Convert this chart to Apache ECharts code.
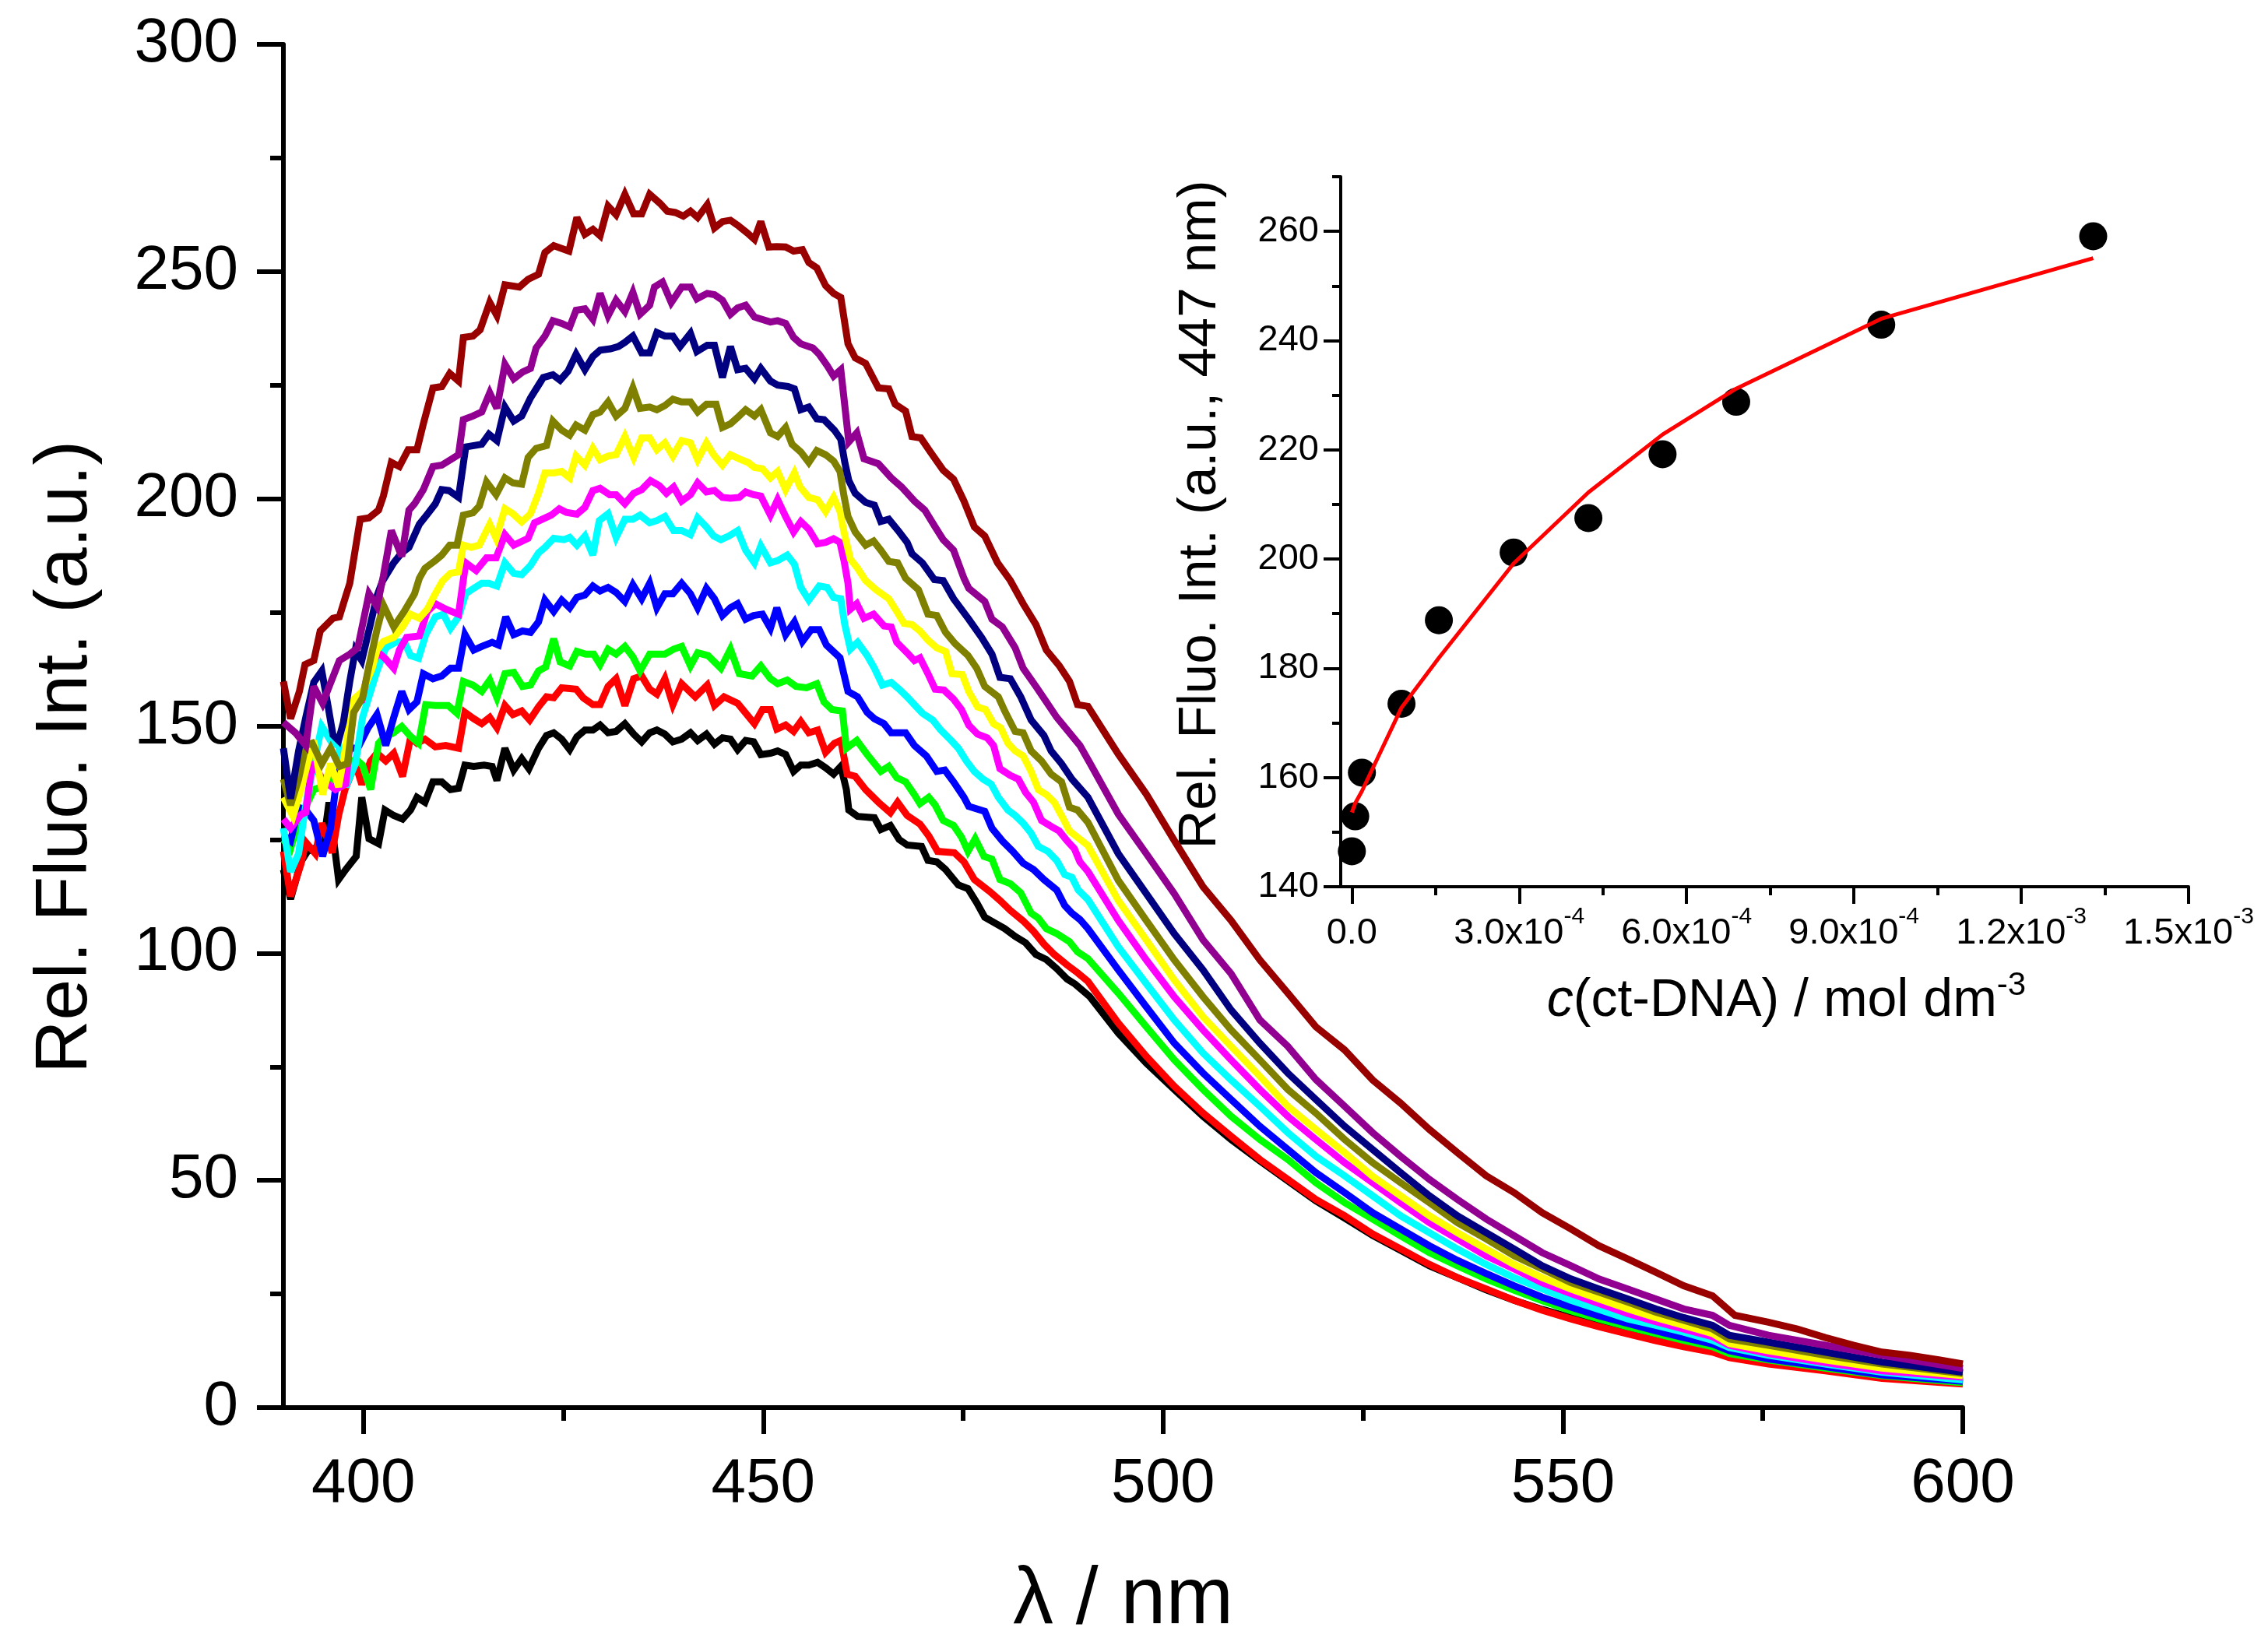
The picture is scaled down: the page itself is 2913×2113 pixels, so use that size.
<!DOCTYPE html>
<html><head><meta charset="utf-8">
<script src="https://cdn.jsdelivr.net/npm/echarts@6/dist/echarts.min.js"></script>
<style>html,body{margin:0;padding:0;background:#fff}#c{width:2913px;height:2113px}</style>
</head><body><div id="c"></div>
<script>
// ---------- main spectra: [wavelength nm, rel. fluorescence] ----------
const spBlack = [[390.0,118.4],[390.9,111.9],[392.2,120.1],[393.0,122.4],[393.8,123.0],[395.0,124.0],[395.7,133.2],[396.9,116.2],[397.8,118.4],[399.1,121.3],[399.8,134.3],[400.7,125.2],[401.9,124.1],[402.7,131.5],[403.8,130.3],[404.9,129.5],[405.9,131.5],[406.7,134.3],[407.7,133.2],[408.7,137.7],[409.8,137.7],[410.9,136.0],[411.9,136.3],[412.7,141.4],[413.8,141.1],[415.1,141.4],[416.1,141.1],[416.7,138.0],[417.7,145.1],[418.8,140.3],[419.8,142.8],[420.7,140.6],[421.9,145.1],[422.9,147.9],[423.8,148.5],[424.8,147.1],[425.8,144.8],[426.7,147.6],[427.7,149.1],[428.7,149.1],[429.6,150.2],[430.6,148.5],[431.6,148.8],[432.7,150.5],[433.8,148.2],[434.8,146.5],[435.8,148.5],[436.7,149.1],[437.7,148.2],[438.7,146.5],[439.8,147.1],[440.9,148.5],[441.8,146.8],[442.9,148.2],[443.9,146.0],[444.9,147.4],[445.9,147.1],[446.8,144.8],[447.8,146.8],[448.8,146.5],[449.7,143.7],[450.9,144.0],[451.8,144.5],[452.8,143.7],[453.8,140.0],[454.7,141.4],[455.7,141.4],[456.8,142.0],[457.8,140.8],[458.8,139.4],[459.7,141.1],[460.4,136.0],[460.7,131.5],[461.8,130.1],[463.9,129.8],[464.7,127.2],[465.9,128.1],[467.0,125.0],[468.0,123.8],[469.8,123.5],[470.6,120.4],[471.7,120.1],[472.8,118.4],[474.4,115.0],[475.6,114.2],[476.7,111.1],[477.7,107.9],[478.8,106.8],[480.2,105.4],[481.5,103.7],[482.8,102.3],[484.1,99.7],[485.4,98.6],[486.7,96.6],[488.0,94.3],[489.0,93.2],[490.8,90.5],[494.4,82.4],[497.9,75.8],[501.4,70.0],[505.0,64.1],[508.5,59.0],[512.1,54.3],[515.6,49.9],[519.1,45.5],[522.7,41.7],[526.2,37.9],[529.7,34.6],[533.3,31.2],[536.8,28.6],[540.4,25.9],[543.9,23.6],[547.4,21.6],[551.0,19.8],[554.5,18.1],[558.1,16.6],[561.6,15.1],[565.1,13.7],[568.7,12.5],[570.8,11.3],[575.7,9.9],[582.8,8.4],[589.9,6.7],[600.0,5.5]];
const spRed = [[390.0,122.4],[390.9,112.5],[392.2,119.6],[392.8,124.4],[394.0,121.9],[394.8,128.6],[396.1,122.1],[396.9,130.3],[397.7,136.0],[399.0,141.7],[399.8,137.1],[400.9,142.3],[401.7,144.0],[402.8,142.3],[403.8,144.0],[404.9,138.9],[405.9,147.4],[406.7,146.2],[407.7,147.1],[409.0,145.4],[410.3,145.7],[411.9,145.1],[412.7,153.0],[413.8,151.6],[414.8,150.5],[415.8,151.9],[416.7,149.6],[417.7,154.5],[418.7,152.5],[419.8,153.3],[420.8,151.3],[421.9,154.2],[422.9,156.4],[423.8,156.2],[424.8,158.4],[426.6,158.1],[427.5,156.2],[428.7,154.7],[429.6,154.7],[430.6,158.7],[431.6,160.4],[432.7,154.5],[433.8,160.4],[434.8,161.0],[435.8,158.1],[436.7,157.0],[437.7,160.4],[438.7,154.7],[439.8,159.3],[441.5,156.4],[443.0,159.0],[443.9,154.5],[445.1,156.4],[446.8,155.0],[448.9,150.5],[449.9,153.6],[450.9,153.6],[451.7,149.3],[452.8,150.2],[453.8,148.8],[454.7,151.0],[455.7,148.5],[456.8,149.1],[457.8,144.2],[458.9,146.2],[459.7,146.8],[460.5,139.4],[461.5,138.9],[462.8,136.0],[464.4,133.2],[465.9,130.9],[466.8,133.2],[468.0,130.3],[469.6,128.4],[470.7,125.8],[471.8,122.4],[473.9,122.1],[475.1,120.1],[476.4,116.2],[478.3,113.6],[479.6,111.6],[480.9,109.4],[482.5,107.1],[483.8,104.8],[485.1,102.0],[486.4,99.7],[488.0,97.4],[489.3,95.7],[490.6,93.8],[494.4,84.6],[497.9,77.3],[501.4,70.7],[505.0,64.8],[508.5,59.7],[512.1,54.6],[515.6,50.2],[519.1,45.8],[522.7,42.2],[526.2,38.2],[529.7,34.9],[533.3,31.5],[536.8,28.6],[540.4,26.1],[543.9,23.6],[547.4,21.4],[551.0,19.5],[554.5,17.8],[558.1,16.2],[561.6,14.7],[565.1,13.4],[568.7,12.2],[570.8,11.0],[575.7,9.6],[582.8,8.1],[589.9,6.4],[600.0,5.2]];
const spGreen = [[390.0,125.0],[390.9,123.0],[391.8,128.5],[393.8,136.0],[394.8,136.6],[395.7,138.3],[397.0,138.0],[399.0,142.8],[399.9,141.4],[400.9,136.0],[401.9,146.2],[402.5,147.4],[403.8,148.5],[404.8,149.9],[405.8,147.9],[406.9,146.2],[407.8,154.7],[409.0,154.5],[410.6,154.5],[411.7,152.8],[412.5,159.8],[413.7,159.0],[414.8,157.6],[415.8,160.1],[416.7,156.2],[417.7,161.5],[418.8,161.8],[419.9,158.7],[420.9,159.0],[421.9,162.1],[422.8,163.0],[423.8,169.2],[424.6,164.1],[425.8,163.2],[426.7,166.4],[427.8,165.8],[428.8,165.8],[429.6,163.5],[430.6,166.9],[431.6,165.8],[432.7,167.5],[433.7,165.2],[434.6,162.1],[435.8,165.8],[437.7,165.8],[438.8,166.9],[439.8,167.5],[440.9,163.2],[441.8,166.1],[443.1,165.5],[444.7,162.7],[445.9,166.9],[447.0,161.5],[448.6,161.0],[449.7,163.2],[450.9,160.4],[451.8,159.3],[453.0,160.1],[454.1,158.7],[455.4,158.4],[456.7,159.3],[457.6,155.3],[458.6,153.6],[459.9,153.3],[460.4,145.1],[461.7,146.8],[463.0,143.7],[464.7,140.0],[465.7,141.1],[466.7,138.6],[467.8,137.7],[468.9,134.9],[469.6,132.9],[470.7,134.3],[471.5,132.6],[472.5,129.2],[473.8,128.1],[474.8,125.5],[475.6,122.4],[476.5,125.2],[477.6,121.3],[478.6,120.7],[479.6,116.2],[480.9,115.3],[482.2,113.3],[483.5,108.8],[484.4,107.7],[485.4,105.4],[486.7,104.3],[488.3,102.5],[489.3,100.3],[490.6,98.8],[494.4,91.2],[497.9,83.8],[501.4,76.5],[505.0,70.0],[508.5,64.1],[512.1,59.0],[515.6,54.6],[519.1,49.5],[522.7,45.1],[526.2,41.5],[529.7,37.8],[533.3,34.1],[536.8,31.2],[540.4,28.3],[543.9,25.8],[547.4,23.5],[551.0,21.3],[554.5,19.5],[558.1,17.8],[561.6,16.3],[565.1,14.8],[568.7,13.4],[570.8,11.9],[575.7,10.5],[582.8,8.7],[589.9,7.0],[600.0,5.5]];
const spBlue = [[390.0,126.0],[390.9,124.7],[391.9,132.1],[392.8,131.5],[393.8,129.2],[394.9,121.3],[395.9,127.5],[396.5,136.0],[397.2,141.7],[398.5,145.1],[399.3,145.1],[400.6,149.6],[401.7,152.5],[402.8,145.7],[403.8,151.9],[404.8,157.6],[405.7,153.6],[406.7,155.3],[407.5,161.5],[408.7,160.4],[409.8,161.0],[410.9,162.7],[411.9,162.7],[412.7,170.1],[413.8,166.7],[414.8,167.5],[416.1,168.4],[416.9,167.8],[417.8,174.0],[418.8,170.1],[419.9,170.9],[420.9,170.6],[421.9,172.9],[422.7,177.7],[423.8,175.2],[424.8,177.7],[425.8,176.0],[426.7,178.3],[427.7,178.8],[428.7,180.8],[429.6,179.7],[430.6,180.5],[431.6,179.4],[432.7,177.4],[433.7,181.1],[434.8,178.0],[435.8,181.4],[436.7,176.0],[437.7,179.1],[438.7,179.1],[439.8,181.4],[440.9,179.1],[441.8,176.0],[442.9,180.3],[443.9,178.0],[444.9,174.3],[445.9,176.0],[446.8,176.9],[447.8,173.5],[448.8,174.3],[449.9,174.6],[450.9,171.5],[451.7,176.0],[452.8,170.1],[453.9,172.9],[454.9,168.6],[456.0,171.2],[457.0,171.2],[457.9,167.8],[459.6,165.0],[460.6,157.6],[461.8,156.4],[463.0,153.0],[463.9,151.6],[465.1,150.5],[466.0,148.5],[467.8,148.5],[468.9,145.7],[470.4,143.4],[471.7,140.0],[472.7,140.3],[473.8,137.7],[475.1,134.3],[475.7,132.3],[477.7,131.2],[478.6,127.5],[479.9,124.7],[481.2,122.4],[482.5,119.8],[483.8,118.4],[485.1,116.2],[486.7,113.9],[487.7,110.5],[488.6,108.8],[489.6,107.4],[490.6,105.4],[494.4,96.3],[497.9,88.2],[501.4,80.2],[505.0,73.6],[508.5,67.8],[512.1,61.9],[515.6,56.8],[519.1,51.7],[522.7,47.3],[526.2,42.9],[529.7,39.3],[533.3,35.6],[536.8,32.4],[540.4,29.5],[543.9,26.8],[547.4,24.3],[551.0,22.1],[554.5,20.2],[558.1,18.5],[561.6,16.9],[565.1,15.4],[568.7,14.0],[570.8,12.5],[575.7,10.7],[582.8,9.0],[589.9,7.2],[600.0,5.8]];
const spCyan = [[390.0,127.5],[390.9,117.9],[391.9,121.9],[392.7,131.5],[393.8,141.7],[394.8,149.9],[395.3,148.5],[396.1,146.2],[396.9,145.7],[397.8,136.6],[399.0,141.7],[399.9,151.9],[400.9,157.6],[401.7,162.1],[402.8,167.2],[404.0,168.4],[405.1,168.6],[405.9,165.5],[406.9,164.9],[407.8,170.1],[409.0,174.0],[410.0,174.6],[410.9,171.5],[411.9,174.0],[412.8,179.1],[413.8,180.3],[414.8,181.4],[415.7,181.4],[416.7,180.8],[417.7,185.9],[418.8,183.6],[419.8,183.3],[420.9,185.3],[421.9,188.1],[422.7,189.3],[423.8,191.3],[425.1,191.0],[425.8,191.5],[426.7,189.8],[427.7,191.8],[428.7,187.6],[429.5,195.2],[430.6,196.7],[431.6,191.5],[432.7,195.5],[433.7,195.5],[434.6,196.4],[435.8,194.7],[436.7,195.2],[437.7,196.1],[438.8,193.0],[439.8,193.0],[440.9,192.1],[441.8,195.8],[442.9,193.8],[443.8,191.8],[444.7,191.0],[445.7,191.8],[446.8,193.0],[447.8,188.7],[448.9,185.9],[449.7,189.6],[450.9,185.9],[451.8,186.4],[453.0,187.6],[453.9,185.6],[454.7,180.5],[455.7,177.7],[457.0,180.8],[458.0,180.5],[458.8,178.3],[459.7,178.0],[460.2,172.3],[460.9,166.9],[461.8,168.4],[463.0,165.5],[463.9,162.7],[464.9,159.0],[466.0,159.6],[467.0,158.1],[468.0,156.4],[468.9,154.7],[469.9,152.8],[471.2,151.3],[472.2,149.1],[473.5,146.8],[474.4,145.1],[475.4,142.3],[476.4,140.0],[477.5,138.3],[478.5,137.2],[479.4,134.3],[480.6,131.5],[481.5,130.3],[482.5,128.6],[483.5,126.4],[484.4,123.5],[485.6,122.4],[486.7,120.4],[487.7,117.3],[488.6,116.7],[489.4,113.9],[490.6,111.8],[494.4,101.4],[497.9,93.3],[501.4,85.3],[505.0,78.0],[508.5,72.1],[512.1,66.3],[515.6,60.5],[519.1,55.3],[522.7,51.0],[526.2,46.6],[529.7,42.2],[533.3,38.5],[536.8,34.9],[540.4,31.5],[543.9,28.6],[547.4,26.1],[551.0,23.6],[554.5,21.6],[558.1,19.5],[561.6,18.1],[565.1,16.6],[568.7,14.8],[570.8,13.2],[575.7,11.5],[582.8,9.6],[589.9,7.8],[600.0,6.1]];
const spMagenta = [[390.0,129.5],[390.9,127.5],[392.2,130.5],[392.8,131.0],[393.6,142.0],[395.0,138.0],[396.5,136.0],[397.8,137.2],[398.8,154.7],[399.8,155.6],[400.7,162.7],[401.9,166.1],[402.7,164.9],[403.8,162.7],[404.5,166.7],[405.4,169.5],[407.0,169.8],[408.0,175.2],[409.0,176.9],[410.3,175.7],[411.9,174.6],[412.8,185.9],[414.1,184.2],[415.4,187.0],[416.6,187.0],[417.7,192.1],[418.8,189.8],[420.6,191.3],[421.4,194.7],[423.5,196.4],[424.5,197.8],[425.4,197.0],[426.7,196.6],[427.7,198.1],[428.7,201.8],[429.6,202.3],[430.8,200.9],[431.6,200.9],[432.7,198.9],[433.8,201.2],[434.8,202.0],[435.9,204.0],[437.0,202.9],[437.9,201.2],[438.8,202.6],[439.8,199.5],[440.9,200.9],[441.8,203.5],[442.9,201.5],[443.9,201.8],[444.9,200.3],[445.9,200.1],[447.0,200.3],[447.8,201.5],[448.8,200.9],[449.7,200.6],[450.9,196.4],[451.8,199.8],[452.8,196.1],[453.8,192.7],[454.7,195.0],[455.7,193.3],[456.8,190.1],[457.8,190.4],[458.8,191.2],[459.6,190.4],[460.1,186.4],[460.6,181.4],[460.9,175.7],[461.7,176.9],[462.6,173.7],[463.8,174.6],[465.1,172.0],[466.0,171.8],[466.7,168.4],[468.0,166.1],[468.9,164.4],[469.6,165.0],[470.6,161.5],[471.5,158.1],[472.6,157.9],[473.8,155.9],[474.8,153.6],[475.7,150.2],[476.8,148.2],[478.0,147.4],[478.8,145.7],[479.6,140.6],[480.9,139.1],[481.9,138.3],[482.8,135.4],[483.8,133.2],[484.8,129.2],[486.1,127.8],[487.0,126.9],[488.0,124.7],[488.9,123.0],[489.6,120.1],[490.6,118.0],[494.4,107.2],[497.9,98.5],[501.4,90.4],[505.0,83.1],[508.5,76.5],[512.1,70.0],[515.6,64.1],[519.1,59.0],[522.7,53.9],[526.2,49.5],[529.7,45.1],[533.3,40.7],[536.8,37.1],[540.4,33.4],[543.9,30.5],[547.4,27.5],[551.0,25.1],[554.5,22.9],[558.1,20.7],[561.6,18.9],[565.1,17.3],[568.7,15.6],[570.8,13.7],[575.7,11.9],[582.8,9.9],[589.9,8.1],[600.0,6.7]];
const spYellow = [[390.0,134.3],[391.2,130.1],[392.2,136.0],[393.0,141.7],[393.8,146.8],[394.9,134.9],[395.9,141.7],[396.9,136.6],[397.7,144.5],[398.8,155.9],[399.9,157.6],[401.1,162.7],[401.7,166.7],[402.5,168.6],[403.8,169.5],[404.9,171.8],[405.9,174.6],[407.0,173.7],[408.0,175.7],[408.9,178.8],[409.9,181.9],[410.9,183.6],[411.9,183.9],[412.5,189.8],[413.5,189.3],[414.5,189.8],[415.8,194.4],[416.6,191.3],[417.7,197.8],[418.7,196.7],[419.8,194.9],[420.9,196.7],[421.9,201.2],[422.7,205.7],[423.8,205.7],[424.8,206.0],[425.8,204.6],[426.6,209.4],[427.7,207.4],[428.7,211.1],[429.6,208.6],[430.6,209.4],[431.6,209.7],[432.7,213.7],[433.8,209.1],[434.8,213.4],[435.8,213.4],[436.7,210.8],[437.7,212.3],[438.7,209.4],[439.8,212.8],[440.9,212.3],[441.8,208.6],[442.9,212.3],[443.8,209.7],[444.9,207.4],[445.9,209.7],[447.0,208.8],[448.1,208.0],[448.9,206.9],[449.9,206.6],[450.9,204.6],[451.8,206.0],[452.8,202.0],[453.9,205.7],[454.6,202.6],[455.7,200.3],[456.8,199.8],[457.8,197.2],[458.8,200.3],[459.6,197.2],[460.1,192.7],[460.9,186.7],[461.8,184.7],[462.8,182.0],[464.1,180.0],[465.7,178.0],[466.7,175.2],[467.6,172.6],[468.6,172.3],[469.6,170.9],[470.6,168.9],[471.7,167.2],[472.8,166.4],[473.6,161.5],[474.9,161.3],[475.7,157.6],[476.8,154.2],[477.8,153.6],[478.8,150.5],[479.7,149.6],[480.6,146.2],[481.5,144.5],[482.5,143.4],[483.5,140.0],[484.4,136.0],[485.4,134.9],[486.4,133.2],[487.3,130.3],[488.3,126.9],[489.3,125.5],[490.6,123.7],[494.4,111.6],[497.9,102.9],[501.4,94.1],[505.0,86.0],[508.5,79.5],[512.1,72.9],[515.6,66.3],[519.1,61.2],[522.7,56.1],[526.2,50.9],[529.7,46.6],[533.3,42.2],[536.8,38.5],[540.4,34.9],[543.9,31.5],[547.4,28.6],[551.0,26.1],[554.5,23.9],[558.1,21.7],[561.6,19.8],[565.1,18.1],[568.7,16.3],[570.8,14.1],[575.7,12.5],[582.8,10.5],[589.9,8.7],[600.0,7.0]];
const spOlive = [[390.0,138.3],[390.9,132.6],[391.9,138.3],[392.8,145.7],[393.6,146.2],[394.8,141.7],[395.9,145.1],[397.0,141.1],[398.0,141.7],[398.8,153.0],[399.9,156.2],[400.7,163.2],[401.7,171.2],[402.5,176.6],[403.8,171.8],[405.1,175.2],[406.4,179.1],[407.0,182.5],[407.7,184.7],[409.0,186.4],[409.8,187.6],[410.8,189.8],[411.7,189.8],[412.5,196.4],[413.7,196.9],[414.5,198.4],[415.4,203.7],[416.6,200.9],[417.7,204.6],[418.7,203.5],[419.8,203.2],[420.6,209.1],[421.6,211.1],[422.9,211.7],[423.7,217.1],[424.8,215.1],[425.8,214.0],[426.6,216.2],[427.7,215.1],[428.7,218.5],[429.6,219.1],[430.6,221.3],[431.6,218.2],[432.7,219.9],[433.7,224.4],[434.6,219.9],[435.8,220.2],[436.7,219.6],[437.7,220.5],[438.7,221.9],[439.8,221.3],[440.9,221.3],[441.8,219.1],[442.9,220.8],[444.1,220.8],[444.9,215.7],[445.9,216.5],[446.8,217.9],[447.8,219.6],[448.9,218.2],[449.7,219.6],[450.9,214.5],[451.8,213.7],[452.8,215.7],[453.6,212.0],[454.7,210.3],[455.7,208.0],[456.7,210.6],[457.8,209.7],[458.8,208.3],[459.6,206.0],[460.1,200.6],[460.6,196.1],[461.5,192.7],[462.8,189.8],[463.8,190.7],[464.7,188.7],[465.7,186.2],[466.8,185.9],[467.8,182.5],[469.4,180.0],[470.6,174.6],[471.7,174.3],[472.8,170.6],[474.0,168.1],[475.6,165.5],[476.7,162.7],[477.7,158.7],[479.4,156.4],[480.2,153.3],[481.5,148.8],[482.5,148.5],[483.5,144.5],[484.8,142.3],[486.0,139.4],[487.3,137.7],[488.3,132.1],[489.3,131.5],[490.6,128.8],[494.4,116.0],[497.9,107.2],[501.4,98.5],[505.0,90.4],[508.5,83.1],[512.1,76.5],[515.6,70.0],[519.1,64.8],[522.7,59.0],[526.2,53.9],[529.7,49.5],[533.3,45.1],[536.8,40.7],[540.4,37.1],[543.9,33.4],[547.4,30.5],[551.0,27.5],[554.5,25.4],[558.1,23.2],[561.6,21.0],[565.1,19.2],[568.7,17.3],[570.8,15.1],[575.7,13.7],[582.8,11.5],[589.9,9.6],[600.0,7.5]];
const spNavy = [[390.0,145.1],[390.9,134.0],[391.9,144.5],[392.8,151.9],[393.8,159.6],[394.8,162.1],[395.6,154.2],[396.2,148.0],[396.9,146.8],[397.5,150.8],[398.3,159.8],[399.0,166.7],[399.8,164.4],[400.8,171.8],[401.7,178.6],[402.4,181.9],[403.8,185.9],[404.8,188.1],[405.7,189.3],[407.0,194.4],[408.0,196.6],[409.0,198.9],[409.8,202.0],[410.7,201.8],[411.9,200.3],[412.8,211.4],[413.8,211.7],[414.8,212.0],[415.7,214.2],[416.7,212.8],[417.7,220.2],[418.8,217.1],[419.8,218.2],[420.9,222.2],[421.9,225.0],[422.5,226.7],[423.7,227.3],[424.6,226.1],[425.6,228.1],[426.6,231.8],[427.7,228.4],[428.7,231.3],[429.6,232.7],[430.9,233.0],[431.9,233.5],[432.7,234.4],[433.7,235.8],[434.8,232.1],[435.8,232.1],[436.7,236.6],[437.7,235.8],[438.7,235.8],[439.6,233.5],[440.9,236.4],[441.7,232.4],[443.0,233.8],[443.9,233.8],[444.9,226.7],[445.9,233.5],[446.8,228.4],[447.8,228.7],[448.9,226.4],[449.7,228.7],[450.9,225.9],[451.8,225.0],[453.1,224.7],[453.9,224.2],[454.7,219.6],[455.7,220.2],[456.7,217.6],[457.6,217.4],[458.9,215.1],[459.7,213.1],[460.2,208.0],[460.7,204.0],[461.5,201.2],[462.8,199.2],[463.9,198.6],[464.7,195.0],[465.7,195.5],[467.0,192.7],[468.0,190.4],[468.6,187.9],[469.9,185.9],[471.4,182.2],[472.5,182.0],[473.8,178.0],[475.7,173.5],[477.3,169.5],[478.6,165.8],[479.6,160.7],[480.9,160.4],[482.2,156.4],[483.5,151.3],[485.1,147.9],[486.0,144.5],[487.3,141.7],[488.6,138.3],[490.6,134.3],[494.4,121.9],[497.9,113.1],[501.4,104.3],[505.0,96.3],[508.5,87.5],[512.1,80.2],[515.6,73.6],[519.1,67.8],[522.7,61.9],[526.2,56.8],[529.7,51.7],[533.3,46.6],[536.8,42.2],[540.4,38.5],[543.9,34.9],[547.4,31.2],[551.0,28.3],[554.5,26.1],[558.1,23.9],[561.6,21.7],[565.1,19.8],[568.7,18.1],[570.8,15.9],[575.7,14.4],[582.8,12.2],[589.9,10.0],[600.0,7.8]];
const spPurple = [[390.0,150.8],[391.5,148.5],[392.8,145.7],[393.8,158.7],[394.9,155.0],[397.0,164.4],[398.3,165.8],[399.3,167.2],[400.7,179.1],[401.7,176.3],[402.5,183.0],[403.5,193.0],[404.8,187.3],[405.7,197.5],[406.4,198.9],[407.5,202.0],[408.7,207.1],[409.8,207.4],[410.9,208.6],[411.9,209.7],[412.5,217.4],[413.7,218.2],[414.8,219.1],[415.8,223.3],[416.7,219.9],[417.7,229.6],[418.8,226.4],[419.9,227.9],[420.9,228.7],[421.6,233.2],[422.7,235.8],[423.7,239.2],[424.8,238.6],[425.8,237.8],[426.6,241.5],[427.7,241.8],[428.7,239.5],[429.6,245.2],[430.6,240.3],[431.6,243.7],[432.7,241.2],[433.7,245.4],[434.6,240.6],[435.8,242.6],[436.4,246.6],[437.4,247.7],[438.5,243.2],[439.8,246.6],[440.9,246.6],[441.7,244.0],[443.0,245.2],[443.9,244.9],[444.9,243.7],[445.9,240.6],[446.8,242.0],[447.8,242.6],[448.9,240.0],[450.9,238.9],[451.8,239.2],[452.8,238.6],[453.8,235.5],[454.7,234.1],[456.2,233.2],[457.0,231.8],[458.0,229.3],[458.8,227.0],[459.7,228.4],[460.2,220.5],[460.7,212.5],[461.7,214.5],[462.6,208.8],[464.4,207.7],[466.0,204.6],[467.3,202.6],[468.9,199.5],[470.2,197.5],[471.5,193.8],[472.5,191.0],[473.8,188.7],[475.1,182.5],[475.7,180.3],[477.7,177.4],[478.6,173.5],[479.9,171.8],[481.5,167.2],[482.5,162.7],[484.1,158.7],[485.4,155.3],[486.7,151.9],[488.3,148.5],[489.6,145.7],[490.8,142.0],[494.4,130.6],[497.9,121.9],[501.4,113.1],[505.0,102.9],[508.5,95.5],[512.1,85.3],[515.6,79.5],[519.1,72.2],[522.7,66.3],[526.2,60.5],[529.7,55.3],[533.3,50.2],[536.8,45.8],[540.4,41.5],[543.9,37.8],[547.4,34.1],[551.0,31.2],[554.5,28.3],[558.1,26.1],[561.6,23.9],[565.1,21.7],[568.7,20.3],[570.8,18.1],[575.7,15.9],[582.8,13.7],[589.9,11.5],[600.0,8.6]];
const spWine = [[390.0,159.8],[390.9,151.6],[392.0,157.6],[392.7,163.5],[393.8,164.4],[394.6,170.9],[396.2,173.7],[397.0,174.0],[397.8,178.6],[398.3,181.4],[399.6,195.5],[400.7,195.8],[401.9,197.5],[402.5,200.6],[403.5,208.0],[404.5,207.1],[405.6,210.8],[406.7,210.8],[407.5,216.5],[408.7,224.4],[409.8,224.7],[410.8,227.6],[411.9,225.9],[412.5,235.5],[413.7,235.8],[414.6,237.2],[415.8,243.2],[416.7,240.3],[417.7,247.1],[419.5,246.6],[420.6,248.3],[421.9,249.4],[422.7,254.2],[423.8,255.7],[425.7,254.5],[426.7,261.9],[427.7,258.2],[428.7,259.3],[429.6,257.9],[430.6,264.4],[431.6,262.5],[432.7,267.0],[433.8,262.7],[434.8,262.7],[435.8,267.0],[437.1,265.0],[438.0,263.3],[439.0,263.0],[440.0,262.2],[440.9,263.3],[441.8,261.9],[443.0,264.7],[443.9,259.6],[444.9,261.0],[445.9,261.3],[446.8,260.2],[448.0,258.5],[448.9,257.1],[449.7,261.0],[450.7,255.4],[451.7,255.5],[452.8,255.4],[453.8,254.5],[454.9,254.8],[455.7,252.0],[456.7,250.8],[457.8,246.9],[458.8,245.2],[459.7,244.3],[460.6,234.1],[461.5,231.0],[462.8,229.8],[464.4,224.4],[465.7,224.2],[466.5,220.8],[467.8,219.3],[468.6,213.7],[469.7,213.4],[470.9,210.3],[472.5,206.3],[473.8,204.3],[475.1,199.5],[476.4,193.8],[477.7,191.8],[479.3,185.9],[480.9,182.0],[482.5,176.9],[484.1,172.3],[485.4,166.7],[487.0,163.3],[488.3,159.8],[489.3,154.7],[490.6,154.3],[494.4,143.8],[497.9,135.0],[501.4,124.8],[505.0,114.6],[508.5,107.2],[512.1,98.5],[515.6,91.2],[519.1,83.8],[522.7,78.7],[526.2,72.1],[529.7,67.0],[533.3,61.2],[536.8,56.1],[540.4,51.0],[543.9,47.3],[547.4,42.9],[551.0,39.3],[554.5,35.6],[558.1,32.7],[561.6,29.8],[565.1,26.8],[568.7,24.6],[571.5,20.3],[575.7,18.8],[579.3,17.3],[582.8,15.4],[586.4,13.7],[589.9,12.2],[593.4,11.5],[597.0,10.5],[600.0,9.6]];

// ---------- inset: titration at 447 nm ----------
const dnaConc  = [0, 0.000006, 0.000018, 0.000089, 0.000156, 0.000290, 0.000424, 0.000557, 0.000689, 0.000949, 0.001329];
const fluo447  = [146.5, 152.9, 160.9, 173.5, 188.8, 201.2, 207.5, 219.2, 228.8, 242.9, 259.1];
const fit447   = [153.6, 155.3, 157.5, 172.8, 181.9, 199.2, 212.2, 222.8, 231.2, 244.0, 255.1];

// ---------- tick values / labels ----------
const mainXTicks = [400, 450, 500, 550, 600];
const mainXMinorTicks = [425, 475, 525, 575];
const insetXTicks = [0, 0.0003, 0.0006, 0.0009, 0.0012, 0.0015];
const insetXMinorTicks = [0.00015, 0.00045, 0.00075, 0.00105, 0.00135];
const insetXTickLabels = ['0.0', '3.0x10{s|-4}', '6.0x10{s|-4}', '9.0x10{s|-4}', '1.2x10{s|-3}', '1.5x10{s|-3}'];
const insetYTicks = [140, 160, 180, 200, 220, 240, 260];
const insetYMinorTicks = [150, 170, 190, 210, 230, 250, 270];

// ---------- styles ----------
const spectra = [spBlack, spRed, spGreen, spBlue, spCyan, spMagenta, spYellow, spOlive, spNavy, spPurple, spWine];
const spectraColors = ['#000000', '#FF0000', '#00FF00', '#0000FF', '#00FFFF', '#FF00FF', '#FFFF00', '#808000', '#000080', '#910091', '#990000'];
const FONT = '"Liberation Sans", Arial, Helvetica, sans-serif';

const chart = echarts.init(document.getElementById('c'), null, {renderer: 'canvas'});

const series = spectra.map((d, i) => ({
  type: 'line', xAxisIndex: 0, yAxisIndex: 0, data: d, showSymbol: false, symbol: 'none',
  lineStyle: {color: spectraColors[i], width: 9, join: 'miter', miterLimit: 3},
  itemStyle: {color: spectraColors[i]}, z: 2 + i, silent: true
}));
series.push({
  type: 'scatter', xAxisIndex: 2, yAxisIndex: 1,
  data: dnaConc.map((c, i) => [c, fluo447[i]]),
  symbol: 'circle', symbolSize: 36, itemStyle: {color: '#000', opacity: 1}, z: 20, silent: true
});
series.push({
  type: 'line', xAxisIndex: 2, yAxisIndex: 1,
  data: dnaConc.map((c, i) => [c, fit447[i]]),
  showSymbol: false, symbol: 'none', lineStyle: {color: '#FF0000', width: 5}, z: 21, silent: true
});

const blk = '#000';
const option = {
  animation: false,
  backgroundColor: '#fff',
  grid: [
    {left: 364, right: 392, top: 57, bottom: 303},
    {left: 1722, right: 102, top: 227, bottom: 974}
  ],
  xAxis: [
    {gridIndex: 0, type: 'value', min: 390, max: 600, position: 'bottom',
     name: 'λ / nm', nameLocation: 'middle', nameGap: 196,
     nameTextStyle: {fontSize: 104, color: blk, fontFamily: FONT},
     axisLine: {onZero: false, lineStyle: {color: blk, width: 6}},
     axisTick: {customValues: mainXTicks, length: 34, lineStyle: {color: blk, width: 6}},
     axisLabel: {customValues: mainXTicks, fontSize: 80, lineHeight: 80, color: blk, margin: 59, fontFamily: FONT},
     splitLine: {show: false}},
    {gridIndex: 0, type: 'value', min: 390, max: 600, position: 'bottom',
     axisLine: {show: false, onZero: false},
     axisTick: {customValues: mainXMinorTicks, length: 17, lineStyle: {color: blk, width: 6}},
     axisLabel: {show: false}, splitLine: {show: false}},
    {gridIndex: 1, type: 'value', min: -0.00002, max: 0.0015, position: 'bottom',
     name: '{i|c}(ct-DNA) / mol dm{s|-3}', nameLocation: 'middle', nameGap: 106,
     nameTextStyle: {fontSize: 68, color: blk, fontFamily: FONT, lineHeight: 82, padding: [0, 0, 0, 56],
       rich: {i: {fontSize: 68, fontStyle: 'italic', fontFamily: FONT, color: blk, lineHeight: 82},
              s: {fontSize: 42, fontFamily: FONT, color: blk, verticalAlign: 'top', lineHeight: 46}}},
     axisLine: {onZero: false, lineStyle: {color: blk, width: 4}},
     axisTick: {customValues: insetXTicks, length: 22, lineStyle: {color: blk, width: 4}},
     axisLabel: {customValues: insetXTicks, fontSize: 47, lineHeight: 72, color: blk, margin: 24, fontFamily: FONT,
       formatter: v => insetXTickLabels[Math.round(v / 0.0003)],
       rich: {s: {fontSize: 30, lineHeight: 32, verticalAlign: 'top', color: blk, fontFamily: FONT}}},
     splitLine: {show: false}},
    {gridIndex: 1, type: 'value', min: -0.00002, max: 0.0015, position: 'bottom',
     axisLine: {show: false, onZero: false},
     axisTick: {customValues: insetXMinorTicks, length: 11, lineStyle: {color: blk, width: 4}},
     axisLabel: {show: false}, splitLine: {show: false}}
  ],
  yAxis: [
    {gridIndex: 0, type: 'value', min: 0, max: 300, interval: 50, position: 'left',
     name: 'Rel. Fluo. Int. (a.u.)', nameLocation: 'middle', nameGap: 232,
     nameTextStyle: {fontSize: 95, color: blk, fontFamily: FONT, padding: [0, 80, 0, 0]},
     axisLine: {show: true, onZero: false, lineStyle: {color: blk, width: 6}},
     axisTick: {show: true, length: 34, lineStyle: {color: blk, width: 6}},
     minorTick: {show: true, splitNumber: 2, length: 17, lineStyle: {color: blk, width: 6}},
     axisLabel: {fontSize: 80, color: blk, margin: 58, fontFamily: FONT},
     splitLine: {show: false}},
    {gridIndex: 1, type: 'value', min: 140, max: 270, position: 'left',
     name: 'Rel. Fluo. Int. (a.u., 447 nm)', nameLocation: 'middle', nameGap: 146,
     nameTextStyle: {fontSize: 69, color: blk, fontFamily: FONT, padding: [0, 0, 0, 44]},
     axisLine: {show: true, onZero: false, lineStyle: {color: blk, width: 4}},
     axisTick: {show: true, customValues: insetYTicks, length: 22, lineStyle: {color: blk, width: 4}},
     axisLabel: {customValues: insetYTicks, fontSize: 47, color: blk, margin: 28, fontFamily: FONT},
     splitLine: {show: false}},
    {gridIndex: 1, type: 'value', min: 140, max: 270, position: 'left',
     axisLine: {show: false, onZero: false},
     axisTick: {show: true, customValues: insetYMinorTicks, length: 11, lineStyle: {color: blk, width: 4}},
     axisLabel: {show: false}, splitLine: {show: false}}
  ],
  series: series
};
chart.setOption(option);
</script>
</body></html>
